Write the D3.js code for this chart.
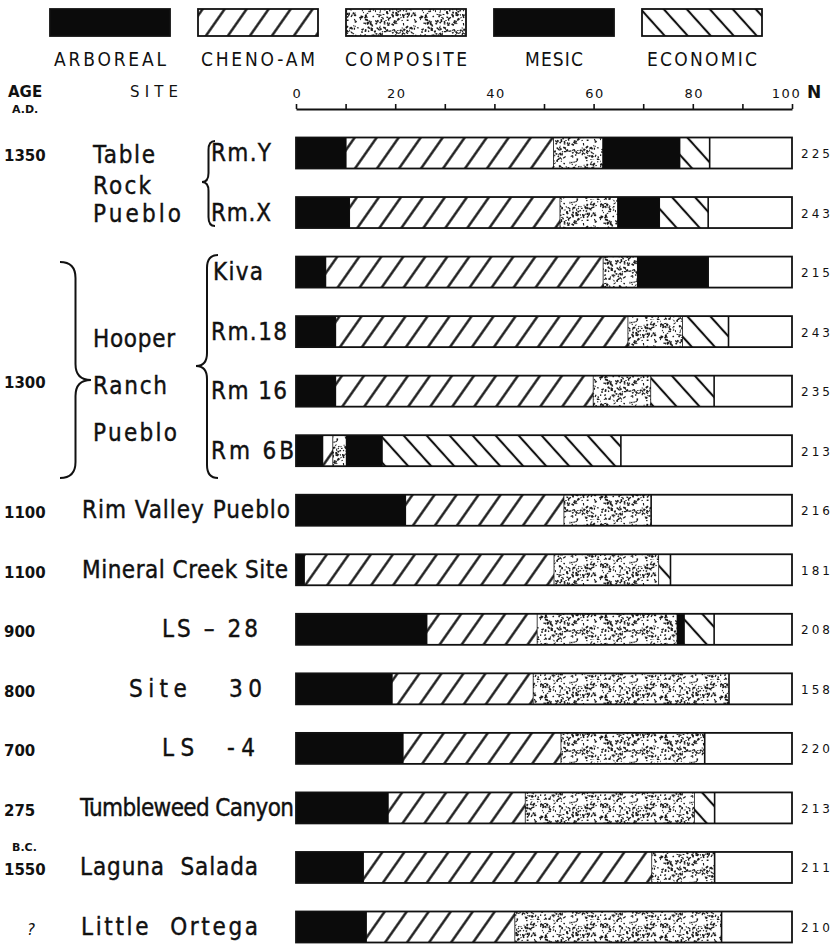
<!DOCTYPE html>
<html>
<head>
<meta charset="utf-8">
<script src="https://cdn.jsdelivr.net/npm/d3@7"></script>
<style>
  body { margin: 0; background: #fff; }
  svg { display: block; }
  text { fill: #111; }
</style>
</head>
<body>
<svg id="chart" width="839" height="952"></svg>
<script>
// Pollen categories and per-sample percentages (left to right in each bar)
const categories = ["ARBOREAL", "CHENO-AM", "COMPOSITE", "MESIC", "ECONOMIC"];
const sites = ["Rm.Y", "Rm.X", "Kiva", "Rm.18", "Rm 16", "Rm 6B", "Rim Valley Pueblo",
  "Mineral Creek Site", "LS – 28", "Site   30", "LS  -4", "Tumbleweed Canyon",
  "Laguna  Salada", "Little  Ortega"];
const arboreal  = [10.2, 10.9,  6.1,  8.1,  8.1,  5.5, 22.2,  1.8, 26.5, 19.5, 21.7, 18.7, 13.7, 14.3];
const chenoAm   = [41.8, 42.4, 55.9, 58.9, 51.9,  2.0, 31.9, 50.3, 22.2, 28.4, 31.8, 27.6, 58.1, 29.9];
const composite = [ 9.9, 11.6,  6.9, 11.0, 11.6,  2.7, 17.5, 21.1, 28.2, 39.4, 28.9, 34.1, 12.6, 41.6];
const mesic     = [15.6,  8.5, 14.2,  0,    0,    7.3,  0,    0,    1.5,  0,    0,    0,    0,    0  ];
const economic  = [ 5.9,  9.7,  0,    9.2, 12.7, 48.0,  0,    2.3,  5.9,  0,    0,    4.0,  0,    0  ];
const sampleN   = [225, 243, 215, 243, 235, 213, 216, 181, 208, 158, 220, 213, 211, 210];
const ages      = ["1350", "1300", "1100", "1100", "900", "800", "700", "275", "1550", "?"];
const ageSites  = ["Rm.Y", null, "Rim Valley Pueblo", "Mineral Creek Site", "LS – 28", "Site   30",
  "LS  -4", "Tumbleweed Canyon", "Laguna  Salada", "Little  Ortega"];
const tickValues = [0, 10, 20, 30, 40, 50, 60, 70, 80, 90, 100];
const groupNames = [["Table", "Rock", "Pueblo"], ["Hooper", "Ranch", "Pueblo"]];

const svg = d3.select("#chart");
const defs = svg.append("defs");
const INK = "#111";

// ---- fill patterns ----
function hatch(id, angle, horizSpacing, width) {
  const s = horizSpacing * Math.cos(Math.abs(angle) * Math.PI / 180);
  const p = defs.append("pattern").attr("id", id)
    .attr("patternUnits", "userSpaceOnUse")
    .attr("width", s).attr("height", 40)
    .attr("patternTransform", `rotate(${angle})`);
  p.append("rect").attr("width", s).attr("height", 40).attr("fill", "#fff");
  p.append("line").attr("x1", s / 2).attr("x2", s / 2).attr("y1", -2).attr("y2", 42)
    .attr("stroke", INK).attr("stroke-width", width);
}
hatch("hatch-cheno", 35, 22, 2.3);
hatch("hatch-econ", -42, 23, 2.1);

// stipple texture for the composite class (seeded so every render is identical)
const stipple = defs.append("pattern").attr("id", "stipple")
  .attr("patternUnits", "userSpaceOnUse").attr("width", 60).attr("height", 40);
stipple.append("rect").attr("width", 60).attr("height", 40).attr("fill", "#fff");
let seed = 11;
const lcg = () => (seed = (seed * 16807) % 2147483647) / 2147483647;
for (let i = 0; i < 260; i++) {
  const px = lcg() * 60, py = lcg() * 40;
  const w = 0.8 + lcg() * 2.2, h = 0.8 + lcg() * 1.1, a = lcg() * 180;
  stipple.append("rect").attr("x", px).attr("y", py).attr("width", w).attr("height", h)
    .attr("transform", `rotate(${a.toFixed(1)} ${px.toFixed(2)} ${py.toFixed(2)})`)
    .attr("fill", "#1a1a1a");
}

const fills = {
  "ARBOREAL": "#0b0b0b",
  "CHENO-AM": "url(#hatch-cheno)",
  "COMPOSITE": "url(#stipple)",
  "MESIC": "#0b0b0b",
  "ECONOMIC": "url(#hatch-econ)"
};

// ---- scales ----
const x = d3.scaleLinear().domain([0, 100]).range([296, 792]);
const y = d3.scalePoint().domain(sites).range([153, 927]);
const barH = 31;

// ---- legend ----
const legendX = d3.scalePoint().domain(categories).range([110, 702]);
const legendW = 120, legendBoxH = 27;
const legendLabelW = { "ARBOREAL": 112, "CHENO-AM": 114, "COMPOSITE": 122, "MESIC": 58, "ECONOMIC": 110 };
const legend = svg.append("g").attr("class", "legend");
categories.forEach(c => {
  const cx = legendX(c);
  legend.append("rect").attr("x", cx - legendW / 2).attr("y", 9)
    .attr("width", legendW).attr("height", legendBoxH)
    .attr("fill", fills[c]).attr("stroke", INK).attr("stroke-width", 1.8);
  legend.append("text").attr("x", cx - legendLabelW[c] / 2).attr("y", 66)
    .attr("textLength", legendLabelW[c]).attr("lengthAdjust", "spacing")
    .style("font-family", "'DejaVu Sans Condensed','Liberation Sans Narrow','DejaVu Sans',sans-serif")
    .style("font-size", "19px")
    .text(c);
});

// ---- axis ----
const axis = d3.axisTop(x).tickValues(tickValues).tickSize(5).tickSizeOuter(0).tickPadding(6)
  .tickFormat(d => d % 20 === 0 ? d : "");
const gAxis = svg.append("g").attr("transform", "translate(0,109)").call(axis);
gAxis.select(".domain").attr("stroke", INK).attr("stroke-width", 1.8);
gAxis.selectAll(".tick line").attr("stroke", INK).attr("stroke-width", 1.6);
gAxis.selectAll(".tick text")
  .style("font-family", "'DejaVu Sans','Liberation Sans',sans-serif")
  .style("font-size", "13px").style("letter-spacing", "1.5px")
  .attr("fill", INK)
  .attr("dx", d => d === 100 ? "-6px" : "1px");

// ---- header texts ----
const head = svg.append("g").style("font-family", "'DejaVu Sans',sans-serif");
head.append("text").attr("x", 8).attr("y", 97).style("font-size", "15px").style("font-weight", "bold").text("AGE");
head.append("text").attr("x", 12).attr("y", 113).style("font-size", "11px").style("font-weight", "bold").text("A.D.");
head.append("text").attr("x", 130).attr("y", 97).attr("textLength", 48).style("font-size", "15px").text("SITE");
head.append("text").attr("x", 807).attr("y", 98).style("font-size", "17px").style("font-weight", "bold").text("N");

// ---- stacked bars ----
const rows = sites.map((s, i) => ({
  site: s, "ARBOREAL": arboreal[i], "CHENO-AM": chenoAm[i], "COMPOSITE": composite[i],
  "MESIC": mesic[i], "ECONOMIC": economic[i], n: sampleN[i]
}));
const stacked = d3.stack().keys(categories)(rows);

const bars = svg.append("g").attr("class", "bars");
// white background box spanning the full 0-100 scale
bars.selectAll("rect.bg").data(rows).join("rect").attr("class", "bg")
  .attr("x", x(0)).attr("y", d => y(d.site) - barH / 2)
  .attr("width", x(100) - x(0)).attr("height", barH).attr("fill", "#fff");

stacked.forEach(layer => {
  const key = layer.key;
  bars.append("g").attr("class", "seg " + key).selectAll("rect")
    .data(layer.filter(d => d[1] - d[0] > 0))
    .join("rect")
    .attr("x", d => x(d[0])).attr("y", d => y(d.data.site) - barH / 2)
    .attr("width", d => x(d[1]) - x(d[0])).attr("height", barH)
    .attr("fill", fills[key]);
  // dividing line at the right edge of each segment
  bars.append("g").attr("class", "sep").selectAll("line")
    .data(layer.filter(d => d[1] - d[0] > 0))
    .join("line")
    .attr("x1", d => x(d[1])).attr("x2", d => x(d[1]))
    .attr("y1", d => y(d.data.site) - barH / 2).attr("y2", d => y(d.data.site) + barH / 2)
    .attr("stroke", INK).attr("stroke-width", 1.6);
});

bars.selectAll("rect.outline").data(rows).join("rect").attr("class", "outline")
  .attr("x", x(0)).attr("y", d => y(d.site) - barH / 2)
  .attr("width", x(100) - x(0)).attr("height", barH)
  .attr("fill", "none").attr("stroke", INK).attr("stroke-width", 1.8);

// sample sizes
svg.append("g").selectAll("text").data(rows).join("text")
  .attr("x", x(100) + 9).attr("y", d => y(d.site) + 5)
  .style("font-family", "'DejaVu Sans',sans-serif").style("font-size", "12px")
  .style("letter-spacing", "3px")
  .text(d => d.n);

// ---- site labels ----
const labelFont = "'DejaVu Sans Condensed','Liberation Sans Narrow','DejaVu Sans',sans-serif";
const siteLayout = {
  "Rm.Y": [211, 60], "Rm.X": [211, 60], "Kiva": [213, 50], "Rm.18": [211, 76],
  "Rm 16": [211, 76], "Rm 6B": [211, 83], "Rim Valley Pueblo": [82, 208],
  "Mineral Creek Site": [82, 206], "LS – 28": [162, 96], "Site   30": [129, 133],
  "LS  -4": [162, 93], "Tumbleweed Canyon": [80, 214], "Laguna  Salada": [80, 178],
  "Little  Ortega": [81, 177]
};
svg.append("g").selectAll("text").data(sites).join("text")
  .attr("x", d => siteLayout[d][0]).attr("y", d => y(d) + 8)
  .attr("textLength", d => siteLayout[d][1]).attr("lengthAdjust", "spacing")
  .style("font-family", labelFont).style("font-size", "24px")
  .style("white-space", "pre")
  .attr("stroke", INK).attr("stroke-width", 0.4)
  .text(d => d);

// grouped site names
const groupLayout = [
  { x: 93, ys: [163, 194, 222], ws: [62, 58, 88] },
  { x: 93, ys: [347, 394, 441], ws: [82, 74, 84] }
];
groupNames.forEach((lines, gi) => {
  lines.forEach((t, li) => {
    svg.append("text").attr("x", groupLayout[gi].x).attr("y", groupLayout[gi].ys[li])
      .attr("textLength", groupLayout[gi].ws[li]).attr("lengthAdjust", "spacing")
      .attr("stroke", INK).attr("stroke-width", 0.4)
      .style("font-family", labelFont).style("font-size", "24px").text(t);
  });
});

// curly braces
function brace(xo, xt, y0, y1, yt, r) {
  const xm = (xo + xt) / 2;
  return `M${xo},${y0} Q${xm},${y0} ${xm},${y0 + r} L${xm},${yt - r} Q${xm},${yt} ${xt},${yt}` +
         ` Q${xm},${yt} ${xm},${yt + r} L${xm},${y1 - r} Q${xm},${y1} ${xo},${y1}`;
}
const braces = [
  brace(215, 202, 141, 226, 182, 9),
  brace(60, 91, 262, 478, 380, 16),
  brace(218, 196, 255, 478, 366, 13)
];
svg.append("g").selectAll("path").data(braces).join("path")
  .attr("d", d => d).attr("fill", "none").attr("stroke", INK).attr("stroke-width", 2);

// ---- ages ----
const ageG = svg.append("g").style("font-family", "'DejaVu Sans',sans-serif")
  .style("font-size", "15px").style("font-weight", "bold");
ages.forEach((a, i) => {
  const yy = ageSites[i] ? y(ageSites[i]) + 8 : 388;
  ageG.append("text").attr("x", a === "?" ? 27 : 4).attr("y", yy)
    .style("font-style", a === "?" ? "italic" : "normal").style("font-weight", a === "?" ? "normal" : "bold")
    .text(a);
});
ageG.append("text").attr("x", 12).attr("y", y("Laguna  Salada") - 16)
  .style("font-size", "11px").text("B.C.");
</script>
</body>
</html>
